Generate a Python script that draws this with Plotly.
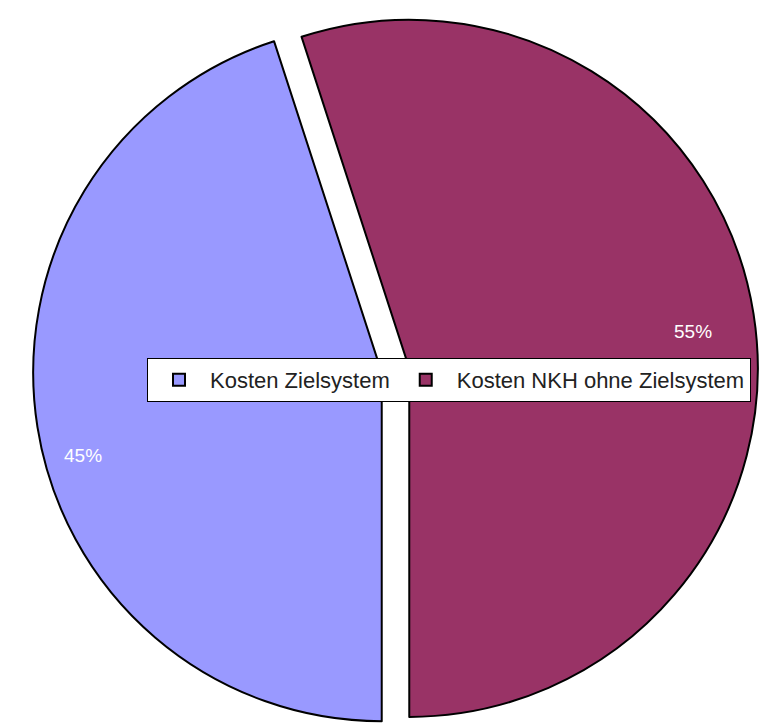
import math
import plotly.graph_objects as go

# data
labels = ["Kosten Zielsystem", "Kosten NKH ohne Zielsystem"]
values = [45, 55]
colors = ["#9999FF", "#993366"]

W, H = 775, 725
pull = 0.04
rotation = 180
label_radius = [0.89, 0.82]  # fraction of the pie radius for each % label
label_shift = [-6.5, 1.5]  # degrees, nudges the % labels along the rim

fig = go.Figure()
fig.add_trace(go.Pie(
    labels=labels, values=values, sort=False, direction="clockwise",
    rotation=rotation, pull=pull, textinfo="none", hoverinfo="label+percent",
    marker=dict(colors=colors, line=dict(color="black", width=2)),
    domain=dict(x=[0, 1], y=[0, 1]),
))

# percent labels near the outer rim of each slice (same geometry plotly uses for the pie)
r = min(W, H) / (2 + 2 * pull)
cx, cy = W / 2, H / 2
total = sum(values)
start = rotation
annotations = []
for v, rad, shift in zip(values, label_radius, label_shift):
    span = v / total * 360
    mid = math.radians(start + span / 2)
    lab = math.radians(start + span / 2 + shift)
    ox, oy = cx + pull * r * math.sin(mid), cy - pull * r * math.cos(mid)
    px = ox + rad * r * math.sin(lab)
    py = oy - rad * r * math.cos(lab)
    annotations.append(dict(x=px / W, y=1 - py / H, xref="paper", yref="paper",
                            xanchor="center", yanchor="middle",
                            text=f"{round(v / total * 100)}%", showarrow=False,
                            font=dict(family="Liberation Sans, Arial", size=19, color="white")))
    start += span

fig.update_layout(
    width=W, height=H,
    margin=dict(l=0, r=0, t=0, b=0),
    paper_bgcolor="white", plot_bgcolor="white",
    annotations=annotations,
    showlegend=True,
    legend=dict(
        orientation="h", x=139 / W, xanchor="left", y=1 - 372 / H, yanchor="middle",
        bgcolor="white", bordercolor="black", borderwidth=1,
        font=dict(family="Liberation Sans, Arial", size=22, color="#222222"),
        itemwidth=52, traceorder="normal",
    ),
)

fig.write_html("out.html")
